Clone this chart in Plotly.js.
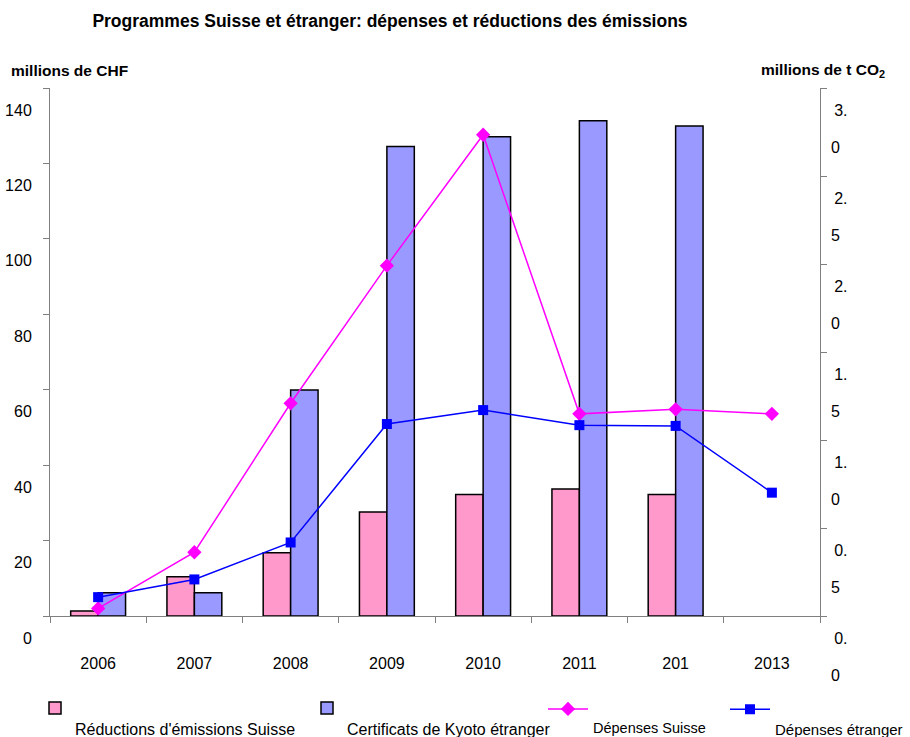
<!DOCTYPE html>
<html>
<head>
<meta charset="utf-8">
<script src="https://cdn.plot.ly/plotly-3.0.1.min.js"></script>
<style>html,body{margin:0;padding:0;background:#fff;}#chart{width:910px;height:737px;}</style>
</head>
<body>
<div id="chart"></div>
<script>
// ---- data ----
const years = ["2006", "2007", "2008", "2009", "2010", "2011", "2012", "2013"];
const yearLabels = ["2006", "2007", "2008", "2009", "2010", "2011", "201", "2013"];
// millions de t CO2 (right axis)
const reductionsSuisse = [0.028, 0.223, 0.36, 0.591, 0.691, 0.722, 0.691, null];
const certificatsKyoto = [0.132, 0.132, 1.284, 2.667, 2.723, 2.814, 2.784, null];
// millions de CHF (left axis)
const depensesSuisse = [2.0, 16.9, 56.4, 92.9, 127.6, 53.6, 54.8, 53.6];
const depensesEtranger = [5.0, 9.7, 19.5, 50.9, 54.6, 50.6, 50.4, 32.7];
// axis ticks
const chfTicks = [0, 20, 40, 60, 80, 100, 120, 140];
const co2Ticks = [0, 0.5, 1.0, 1.5, 2.0, 2.5, 3.0];
const co2TickLine1 = ["0.", "0.", "1.", "1.", "2.", "2.", "3."];
const co2TickLine2 = ["0", "5", "0", "5", "0", "5", "0"];

const FONT = "Arial, 'Liberation Sans', sans-serif";
const AXISCOL = "#808080";

const traces = [
  {
    type: "bar", name: "<br>Réductions d'émissions Suisse", x: years, y: reductionsSuisse,
    xaxis: "x", yaxis: "y", legend: "legend",
    marker: {color: "#FF99CC", line: {color: "#000000", width: 1.5}}
  },
  {
    type: "bar", name: "<br>Certificats de Kyoto étranger", x: years, y: certificatsKyoto,
    xaxis: "x", yaxis: "y", legend: "legend2",
    marker: {color: "#9999FF", line: {color: "#000000", width: 1.5}}
  },
  {
    type: "scatter", mode: "lines+markers", name: "<br>Dépenses Suisse", x: years, y: depensesSuisse,
    xaxis: "x", yaxis: "y2", legend: "legend3",
    line: {color: "#FF00FF", width: 1.5},
    marker: {symbol: "diamond", size: 11, color: "#FF00FF"}
  },
  {
    type: "scatter", mode: "lines+markers", name: "<br>Dépenses étranger", x: years, y: depensesEtranger,
    xaxis: "x", yaxis: "y2", legend: "legend4",
    line: {color: "#0000FF", width: 1.5},
    marker: {symbol: "square", size: 10, color: "#0000FF"}
  }
];

function leg(xpx, ypx, iw, fs) {
  return {
    orientation: "h", xref: "container", yref: "container",
    x: xpx / 910, y: 1 - ypx / 737, xanchor: "left", yanchor: "top",
    valign: "top", font: {family: FONT, size: fs, color: "#000"},
    bgcolor: "rgba(0,0,0,0)", itemwidth: iw, tracegroupgap: 0
  };
}

const layout = {
  width: 910, height: 737,
  margin: {l: 50, r: 90, t: 88, b: 121},
  paper_bgcolor: "#ffffff", plot_bgcolor: "#ffffff",
  font: {family: FONT, size: 16, color: "#000"},
  title: {
    text: "Programmes Suisse et étranger: dépenses et réductions des émissions",
    xref: "container", yref: "container", x: 390 / 910, y: 1 - 21 / 737,
    xanchor: "center", yanchor: "middle",
    font: {family: FONT, size: 17.5, weight: "bold", color: "#000"}
  },
  barmode: "group", bargap: 0.43, bargroupgap: 0,
  showlegend: true,
  legend: leg(35, 691, 30, 16), legend2: leg(307, 691, 30, 16),
  legend3: leg(543, 693, 40, 14.5), legend4: leg(725, 693, 40, 15),
  xaxis: {
    type: "category", tickvals: years, ticktext: yearLabels,
    range: [-0.5, 7.5], tickson: "boundaries",
    ticks: "outside", ticklen: 6, tickcolor: AXISCOL,
    showline: true, linecolor: AXISCOL, linewidth: 1,
    showgrid: false, zeroline: false,
    ticklabelstandoff: 33,
    tickfont: {family: FONT, size: 16}
  },
  yaxis: {
    side: "right", range: [0, 3], tickvals: co2Ticks, ticktext: co2TickLine1,
    ticks: "outside", ticklen: 6, tickcolor: AXISCOL,
    showline: true, linecolor: AXISCOL, linewidth: 1,
    showgrid: false, zeroline: false,
    ticklabelshift: 22, ticklabelstandoff: 4,
    tickfont: {family: FONT, size: 16}
  },
  yaxis3: {
    side: "right", overlaying: "y", anchor: "x", range: [0, 3],
    tickvals: co2Ticks, ticktext: co2TickLine2,
    ticks: "", showline: false, showgrid: false, zeroline: false,
    ticklabelshift: 59, ticklabelstandoff: 10,
    tickfont: {family: FONT, size: 16}
  },
  yaxis2: {
    side: "left", overlaying: "y", anchor: "x", range: [0, 140], tickvals: chfTicks,
    ticks: "outside", ticklen: 6, tickcolor: AXISCOL,
    showline: true, linecolor: AXISCOL, linewidth: 1,
    showgrid: false, zeroline: false,
    ticklabelshift: 22, ticklabelstandoff: 8,
    tickfont: {family: FONT, size: 16}
  },
  annotations: [
    {text: "millions de CHF", xref: "paper", yref: "paper", x: (9 - 50) / 770, y: (616 - 71) / 528,
     xanchor: "left", yanchor: "middle", showarrow: false,
     font: {family: FONT, size: 15.5, weight: "bold", color: "#000"}},
    {text: "millions de t CO<sub>2</sub>", xref: "paper", yref: "paper", x: (887 - 50) / 770, y: (616 - 71) / 528,
     xanchor: "right", yanchor: "middle", showarrow: false,
     font: {family: FONT, size: 15.5, weight: "bold", color: "#000"}}
  ]
};

// dummy trace to activate yaxis3 (label-only axis)
traces.push({type: "scatter", x: [], y: [], xaxis: "x", yaxis: "y3", showlegend: false, hoverinfo: "skip"});

Plotly.newPlot("chart", traces, layout, {displayModeBar: false, staticPlot: true});
</script>
</body>
</html>
